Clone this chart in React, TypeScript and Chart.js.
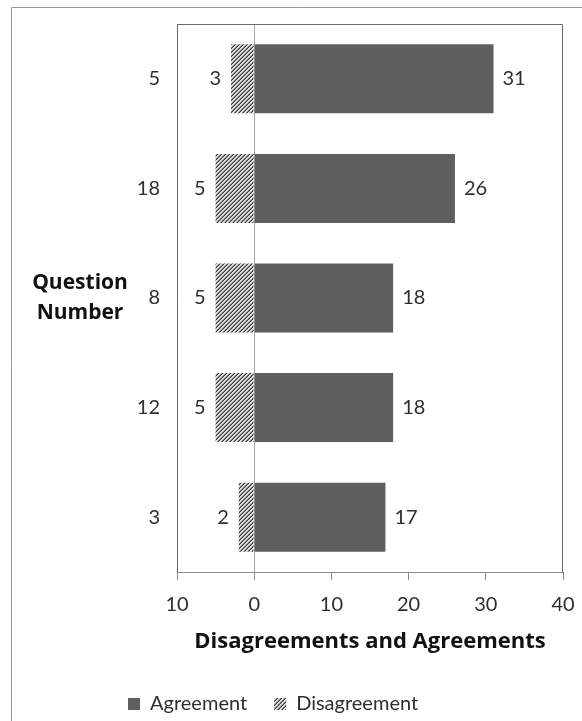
import React, { useEffect, useRef } from 'react';
import { Chart, registerables } from 'chart.js';

Chart.register(...registerables);

const questions = ['5', '18', '8', '12', '3'];
const agreements = [31, 26, 18, 18, 17];
const disagreements = [-3, -5, -5, -5, -2];
const xTickValues = [-10, 0, 10, 20, 30, 40];
const seriesNames = ['Agreement', 'Disagreement'];
const xTitle = 'Disagreements and Agreements';
const yTitleLines = ['Question', 'Number'];

const FONT = 'Lato';
const TITLE_FONT = '"Open Sans"';

export default function App() {
  const ref = useRef<HTMLCanvasElement>(null);

  useEffect(() => {
    const canvas = ref.current!;
    const tile = document.createElement('canvas');
    tile.width = 4;
    tile.height = 4;
    const tctx = tile.getContext('2d')!;
    for (let x = 0; x < 4; x++) {
      for (let y = 0; y < 4; y++) {
        const d = (x + y) % 4;
        tctx.fillStyle = d === 3 ? '#3a3a3a' : d === 2 ? '#858585' : '#dcdcdc';
        tctx.fillRect(x, y, 1, 1);
      }
    }
    const hatch = canvas.getContext('2d')!.createPattern(tile, 'repeat')!;

    const framePlugin = {
      id: 'frame',
      beforeDraw(chart: any) {
        const c = chart.ctx;
        c.save();
        c.fillStyle = '#ffffff';
        c.fillRect(0, 0, chart.width, chart.height);
        c.strokeStyle = '#9a9a9a';
        c.lineWidth = 1;
        c.beginPath();
        c.moveTo(11.5, chart.height);
        c.lineTo(11.5, 7.5);
        c.lineTo(chart.width, 7.5);
        c.stroke();
        c.restore();
      },
      afterDraw(chart: any) {
        const c = chart.ctx;
        const { left, top, right, bottom } = chart.chartArea;
        c.save();
        c.strokeStyle = '#6a6a6a';
        c.lineWidth = 1;
        c.beginPath();
        c.moveTo(left + 0.5, bottom);
        c.lineTo(left + 0.5, top + 0.5);
        c.lineTo(right - 0.5, top + 0.5);
        c.lineTo(right - 0.5, bottom);
        c.stroke();
        c.font = `bold 21px ${TITLE_FONT}`;
        c.fillStyle = '#111111';
        c.textAlign = 'center';
        c.textBaseline = 'middle';
        const cy = (top + bottom) / 2;
        c.fillText(yTitleLines[0], 80, cy - 15);
        c.fillText(yTitleLines[1], 80, cy + 15);
        c.restore();
      },
    };

    const labelPlugin = {
      id: 'valueLabels',
      afterDatasetsDraw(chart: any) {
        const c = chart.ctx;
        c.save();
        c.font = `20px ${FONT}`;
        c.fillStyle = '#2e2e2e';
        c.textBaseline = 'middle';
        chart.data.datasets.forEach((ds: any, di: number) => {
          const meta = chart.getDatasetMeta(di);
          meta.data.forEach((el: any, i: number) => {
            const v = ds.data[i] as number;
            const { x, y } = el.getProps(['x', 'y'], true);
            if (v >= 0) {
              c.textAlign = 'left';
              c.fillText(String(v), x + 9, y);
            } else {
              c.textAlign = 'right';
              c.fillText(String(-v), x - 10, y);
            }
          });
        });
        c.restore();
      },
    };

    const chart = new Chart(canvas, {
      type: 'bar',
      data: {
        labels: questions,
        datasets: [
          {
            label: seriesNames[0],
            data: agreements,
            backgroundColor: '#5f5f5f',
            borderWidth: 0,
            categoryPercentage: 0.63,
            barPercentage: 1,
          },
          {
            label: seriesNames[1],
            data: disagreements,
            backgroundColor: hatch as any,
            borderWidth: 0,
            categoryPercentage: 0.63,
            barPercentage: 1,
          },
        ],
      },
      options: {
        indexAxis: 'y',
        responsive: false,
        animation: false,
        events: [],
        layout: { padding: { left: 101, right: 19, top: 24, bottom: 0 } },
        scales: {
          x: {
            type: 'linear',
            min: -10,
            max: 40,
            stacked: true,
            afterBuildTicks: (s: any) => {
              s.ticks = xTickValues.map((v) => ({ value: v }));
            },
            afterFit: (s: any) => {
              s.height = 95;
              s.paddingLeft = 0;
              s.paddingRight = 0;
            },
            ticks: {
              autoSkip: false,
              maxRotation: 0,
              padding: 13,
              color: '#2e2e2e',
              font: { family: FONT, size: 20 },
              callback: (v: any) => String(Math.abs(Number(v))),
            },
            grid: {
              color: (ctx: any) =>
                ctx.tick && ctx.tick.value === 0 ? '#a8a8a8' : 'rgba(0,0,0,0)',
              tickColor: '#8c8c8c',
              tickLength: 8,
              lineWidth: 1,
            },
            border: { color: '#8c8c8c' },
            title: {
              display: true,
              text: xTitle,
              color: '#111111',
              font: { family: 'Open Sans', size: 22, weight: 'bold' },
              padding: { top: 0, bottom: 12 },
            },
          },
          y: {
            type: 'category',
            stacked: true,
            afterFit: (s: any) => {
              s.width = 76;
              s.paddingTop = 0;
              s.paddingBottom = 0;
            },
            grid: { display: false, drawTicks: false },
            border: { display: true, color: '#6a6a6a' },
            ticks: {
              padding: 17,
              color: '#2e2e2e',
              font: { family: FONT, size: 20 },
            },
          },
        },
        plugins: {
          tooltip: { enabled: false },
          legend: {
            display: true,
            position: 'bottom',
            align: 'start',
            maxHeight: 54,
            labels: {
              boxWidth: 12,
              boxHeight: 12,
              padding: 27,
              color: '#2e2e2e',
              font: { family: FONT, size: 20 },
            },
          },
        },
      } as any,
      plugins: [framePlugin, labelPlugin],
    });

    return () => chart.destroy();
  }, []);

  return (
    <div style={{ position: 'absolute', left: 0, top: 0, width: 582, height: 721 }}>
      <canvas ref={ref} width={582} height={721} style={{ display: 'block', width: 582, height: 721 }} />
    </div>
  );
}
